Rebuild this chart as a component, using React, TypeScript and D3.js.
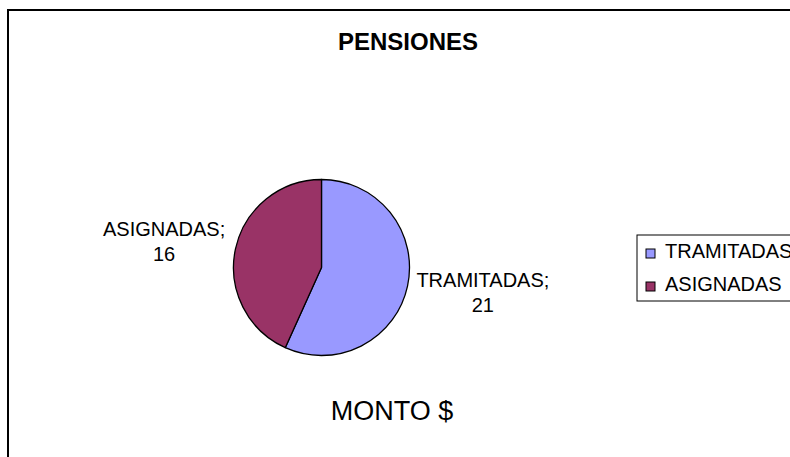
import React, { useEffect, useRef } from "react";
import * as d3 from "d3";

const categories = ["TRAMITADAS", "ASIGNADAS"];
const values = [21, 16];
const colors = ["#9999FF", "#993366"];
const title = "PENSIONES";
const subtitle = "MONTO $";

type Slice = { name: string; value: number; color: string };

const App = () => {
  const ref = useRef<SVGSVGElement | null>(null);

  useEffect(() => {
    const width = 790;
    const height = 457;
    const svg = d3.select(ref.current);
    svg.selectAll("*").remove();

    svg.append("rect").attr("width", width).attr("height", height).attr("fill", "#fff");

    // chart frame (runs off the right/bottom edge)
    svg
      .append("rect")
      .attr("x", 8)
      .attr("y", 10)
      .attr("width", 820)
      .attr("height", 480)
      .attr("fill", "none")
      .attr("stroke", "#000")
      .attr("stroke-width", 2);

    const font = "'Liberation Sans', Arial, sans-serif";

    svg
      .append("text")
      .attr("x", 408)
      .attr("y", 50)
      .attr("text-anchor", "middle")
      .attr("font-family", font)
      .attr("font-weight", "bold")
      .attr("font-size", 24)
      .text(title);

    svg
      .append("text")
      .attr("x", 392)
      .attr("y", 420)
      .attr("text-anchor", "middle")
      .attr("font-family", font)
      .attr("font-size", 27)
      .text(subtitle);

    const data: Slice[] = categories.map((c, i) => ({ name: c, value: values[i], color: colors[i] }));
    const cx = 321.5;
    const cy = 267.5;
    const r = 88;

    const pie = d3
      .pie<Slice>()
      .sort(null)
      .value((d) => d.value);
    const arc = d3.arc<d3.PieArcDatum<Slice>>().innerRadius(0).outerRadius(r);

    const g = svg.append("g").attr("transform", `translate(${cx},${cy})`);
    const arcs = pie(data);
    g.selectAll("path")
      .data(arcs)
      .join("path")
      .attr("d", arc)
      .attr("fill", (d) => d.data.color)
      .attr("stroke", "#000")
      .attr("stroke-width", 1.3)
      .attr("stroke-linejoin", "round");

    // data labels, outside the slice along its mid angle
    const labelArc = d3.arc<d3.PieArcDatum<Slice>>().innerRadius(r + 73).outerRadius(r + 73);
    arcs.forEach((d) => {
      const [cxl, ly] = labelArc.centroid(d);
      const lx = cxl > 0 ? cxl + 4 : cxl;
      const y = ly < 0 ? ly + 2 : ly - 14;
      const t = g
        .append("text")
        .attr("text-anchor", "middle")
        .attr("font-family", font)
        .attr("font-size", 20)
        .attr("fill", "#000");
      t.append("tspan").attr("x", lx).attr("y", y).text(`${d.data.name};`);
      t.append("tspan").attr("x", lx).attr("y", y + 25).text(d.data.value);
    });

    // legend
    const legend = svg.append("g").attr("transform", "translate(637,235)");
    legend
      .append("rect")
      .attr("width", 200)
      .attr("height", 66)
      .attr("fill", "#fff")
      .attr("stroke", "#000")
      .attr("stroke-width", 1);
    const item = legend
      .selectAll("g.item")
      .data(data)
      .join("g")
      .attr("class", "item")
      .attr("transform", (_d, i) => `translate(9,${14 + i * 33})`);
    item
      .append("rect")
      .attr("width", 9)
      .attr("height", 9)
      .attr("fill", (d) => d.color)
      .attr("stroke", "#000")
      .attr("stroke-width", 1);
    item
      .append("text")
      .attr("x", 19)
      .attr("y", 9)
      .attr("font-family", font)
      .attr("font-size", 20)
      .text((d) => d.name);
  }, []);

  return (
    <svg
      ref={ref}
      width={790}
      height={457}
      style={{ position: "absolute", left: 0, top: 0, display: "block" }}
    />
  );
};

export default App;
